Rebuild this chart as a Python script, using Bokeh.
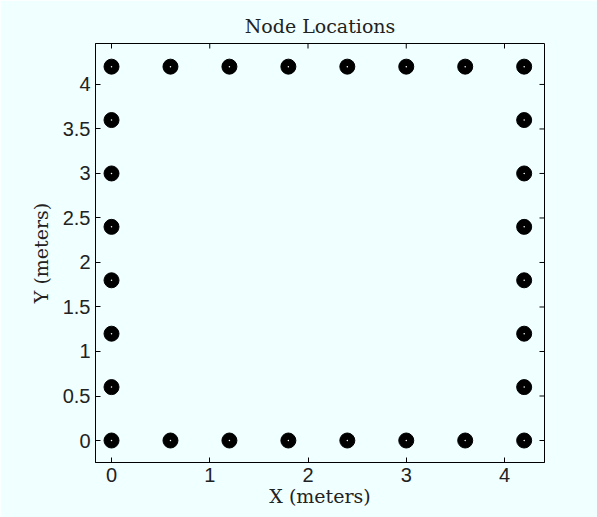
import math
from bokeh.plotting import figure
from bokeh.models import Range1d, FixedTicker
from bokeh.embed import file_html
from bokeh.resources import INLINE

# Node positions (meters): perimeter of a 4.2 m square, 0.6 m spacing
node_x = [0, 0.6, 1.2, 1.8, 2.4, 3.0, 3.6, 4.2,
          0, 0.6, 1.2, 1.8, 2.4, 3.0, 3.6, 4.2,
          0, 0, 0, 0, 0, 0,
          4.2, 4.2, 4.2, 4.2, 4.2, 4.2]
node_y = [0, 0, 0, 0, 0, 0, 0, 0,
          4.2, 4.2, 4.2, 4.2, 4.2, 4.2, 4.2, 4.2,
          0.6, 1.2, 1.8, 2.4, 3.0, 3.6,
          0.6, 1.2, 1.8, 2.4, 3.0, 3.6]
x_ticks = [0, 1, 2, 3, 4]
y_ticks = [0, 0.5, 1, 1.5, 2, 2.5, 3, 3.5, 4]
x_lim = (-0.163, 4.407)
y_lim = (-0.247, 4.46)

BG = "#F0FFFF"
p = figure(width=597, height=517, output_backend="svg", toolbar_location=None,
           x_range=Range1d(*x_lim), y_range=Range1d(*y_lim),
           background_fill_color=BG, border_fill_color=BG,
           min_border_left=95, min_border_right=53, min_border_top=43, min_border_bottom=55)
p.grid.visible = False
p.outline_line_color = "black"
p.outline_line_width = 1

p.title.text = "Node Locations"
p.title.text_font = "DejaVu Serif"
p.title.text_font_size = "19px"
p.title.text_font_style = "normal"
p.title.align = "center"
p.title.text_color = "#222222"
p.title.standoff = 13

for ax in [p.xaxis[0], p.yaxis[0]]:
    ax.major_label_text_font = "Liberation Sans"
    ax.major_label_text_font_size = "20px"
    ax.major_label_text_color = "#222222"
    ax.major_tick_in = 5
    ax.major_tick_out = 0
    ax.minor_tick_line_color = None
    ax.axis_line_color = "black"
    ax.major_label_standoff = 5
    ax.axis_label_text_font = "DejaVu Serif"
    ax.axis_label_text_font_size = "19px"
    ax.axis_label_text_font_style = "normal"
    ax.axis_label_text_color = "#222222"
p.xaxis[0].ticker = FixedTicker(ticks=x_ticks)
p.yaxis[0].ticker = FixedTicker(ticks=y_ticks)
p.xaxis[0].axis_label = "X (meters)"
p.yaxis[0].axis_label = "Y (meters)"
p.xaxis[0].axis_label_standoff = 0
p.yaxis[0].axis_label_standoff = 8
p.yaxis[0].major_label_orientation = "horizontal"

# mirror ticks on top and right edges of the box
p.ray(x=x_ticks, y=[y_lim[1]] * len(x_ticks), length=5, length_units="screen",
      angle=-math.pi / 2, line_color="black", line_width=1)
p.ray(x=[x_lim[1]] * len(y_ticks), y=y_ticks, length=5, length_units="screen",
      angle=math.pi, line_color="black", line_width=1)

p.scatter(node_x, node_y, size=15, fill_color="black", line_color="black")
p.scatter(node_x, node_y, size=1.5, fill_color="white", line_color=None)

html = file_html(p, INLINE)
html = html.replace("<body>", '<body style="background:#F0FFFF;margin:0">', 1)
open("out.html", "w").write(html)
